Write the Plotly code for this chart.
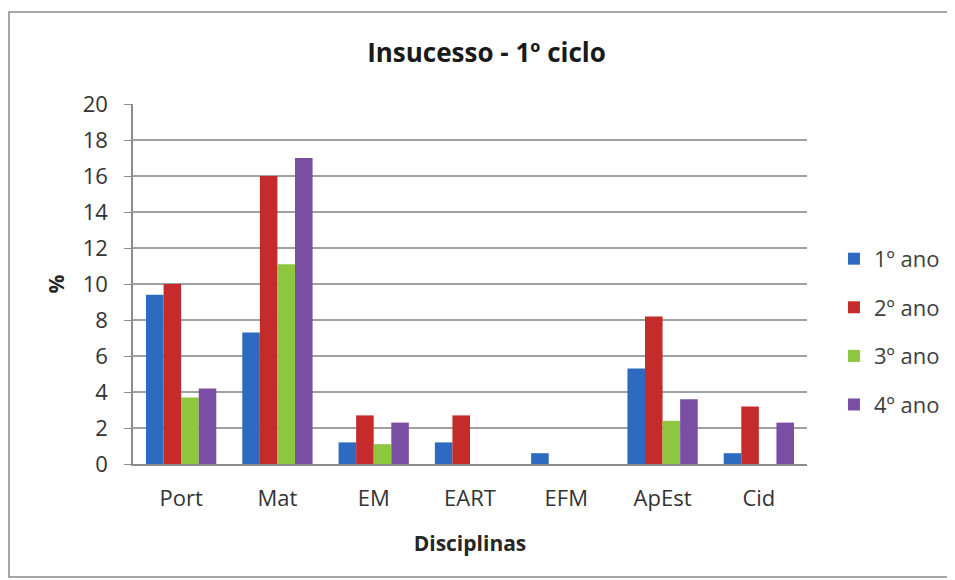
import plotly.graph_objects as go

categories = ["Port", "Mat", "EM", "EART", "EFM", "ApEst", "Cid"]
series_names = ["1º ano", "2º ano", "3º ano", "4º ano"]
ano1 = [9.4, 7.3, 1.2, 1.2, 0.6, 5.3, 0.6]
ano2 = [10.0, 16.0, 2.7, 2.7, 0, 8.2, 3.2]
ano3 = [3.7, 11.1, 1.1, 0, 0, 2.4, 0]
ano4 = [4.2, 17.0, 2.3, 0, 0, 3.6, 2.3]
y_ticks = list(range(0, 21, 2))

colors = ["#2D6BC0", "#C62B2B", "#8DC63F", "#7A4FA3"]
values = [ano1, ano2, ano3, ano4]

font_family = "'Open Sans', Lato, Arial, sans-serif"

fig = go.Figure()
for name, vals, col in zip(series_names, values, colors):
    fig.add_trace(go.Bar(
        x=categories, y=vals, name=name, legendgroup=name,
        marker=dict(color=col, line=dict(width=0)),
    ))

fig.update_layout(
    width=955, height=580,
    margin=dict(l=125, r=156, t=96, b=124),
    paper_bgcolor="white", plot_bgcolor="white",
    barmode="group", bargap=0.27, bargroupgap=0,
    font=dict(family=font_family, size=22, color="#333333"),
    title=dict(text="<b>Insucesso - 1º ciclo</b>", x=478.5 / 955, xref="container", xanchor="center",
               y=1 - 45 / 580, yref="container", yanchor="middle",
               font=dict(size=26, color="#1a1a1a", family=font_family)),
    showlegend=True,
    legend=dict(x=1.040, xanchor="left", y=0.367, yanchor="middle",
                traceorder="grouped", tracegroupgap=17,
                font=dict(size=22, color="#404040"), bgcolor="rgba(0,0,0,0)"),
    xaxis=dict(
        showline=True, linecolor="#8C8C8C", linewidth=1.5, ticks="", showgrid=False,
        ticklabelstandoff=14,
        title=dict(text="<b>Disciplinas</b>", font=dict(size=21, color="#262626"), standoff=25),
        tickfont=dict(size=22),
    ),
    yaxis=dict(
        range=[0, 20], tickvals=y_ticks, showline=True, linecolor="#8C8C8C", linewidth=1.5,
        ticks="outside", ticklen=7, tickcolor="#8C8C8C",
        ticklabelstandoff=12,
        showgrid=True, gridcolor="#A0A0A0", gridwidth=1.8,
        zeroline=False,
        title=dict(text="<b>%</b>", font=dict(size=21, color="#262626"), standoff=12),
        tickfont=dict(size=22),
    ),
)

fig.add_shape(type="rect", xref="paper", yref="paper",
              x0=(1 - 125) / 674, x1=(942 - 125) / 674,
              y0=(456 - 569) / 360, y1=(456 - 4) / 360,
              line=dict(color="#8A8A8A", width=1.5), fillcolor="rgba(0,0,0,0)", layer="below")

fig.write_html("out.html")
